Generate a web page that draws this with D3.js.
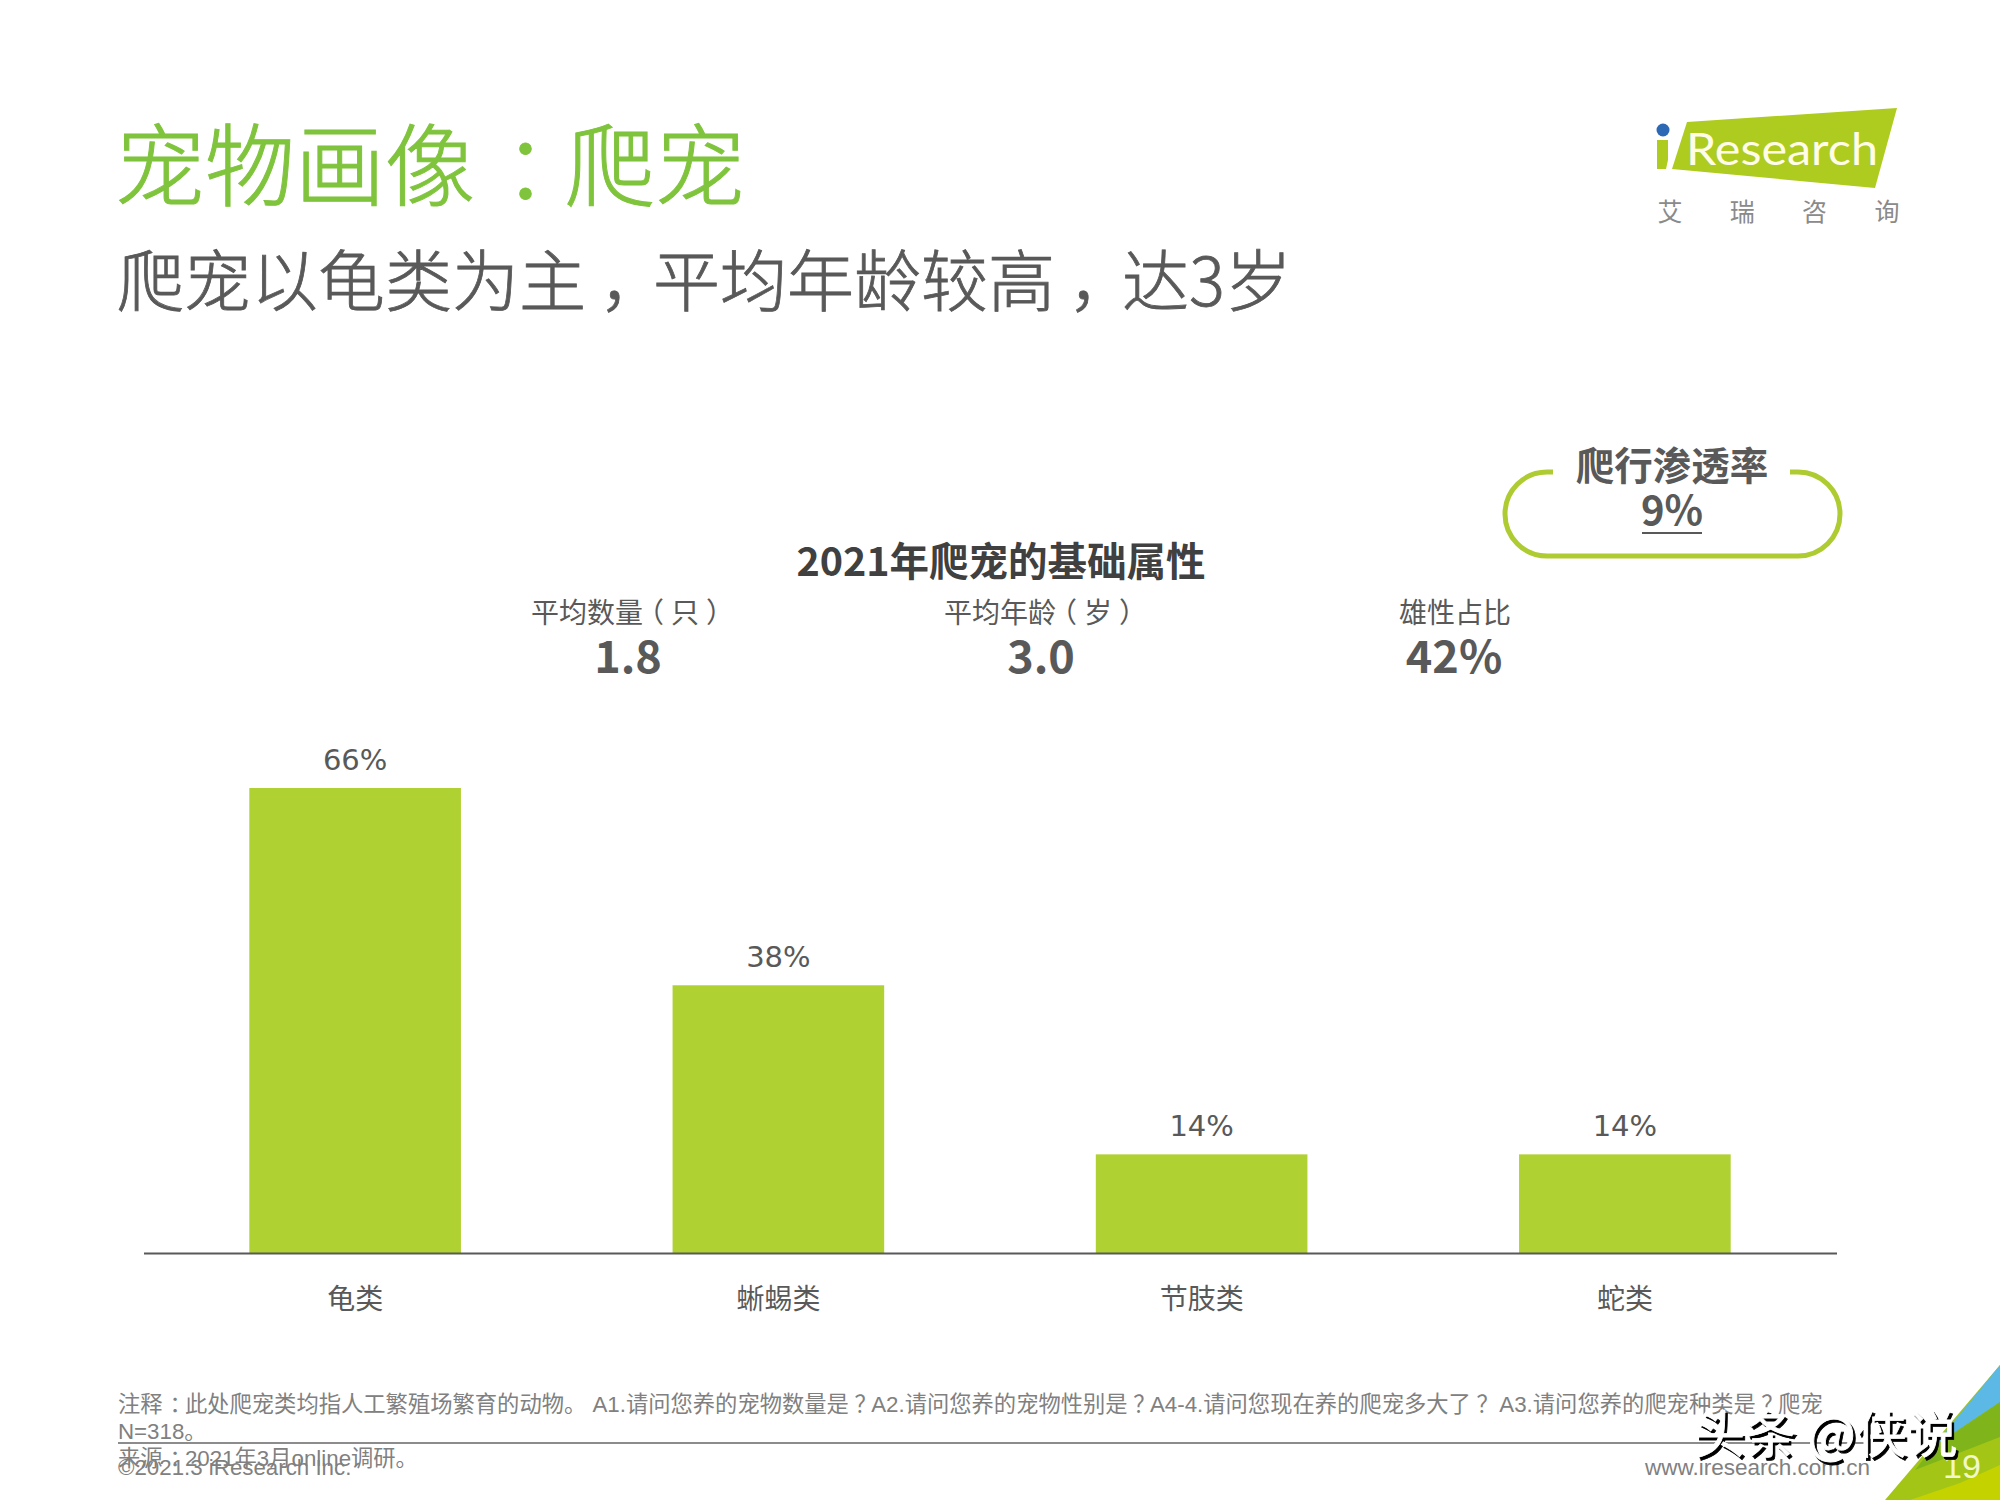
<!DOCTYPE html>
<html><head><meta charset="utf-8">
<script src="https://cdnjs.cloudflare.com/ajax/libs/d3/7.8.5/d3.min.js"></script>
<style>html,body{margin:0;background:#fff}svg{display:block}text{font-family:"Noto Sans CJK SC","Noto Sans",sans-serif}</style>
</head><body><svg id="c" width="2000" height="1500"></svg>
<script>
const categories = ["龟类","蜥蜴类","节肢类","蛇类"];
const shares = [66,38,14,14];
const statLabels = ["平均数量（只）","平均年龄（岁）","雄性占比"];
const statValues = ["1.8","3.0","42%"];
const titleText = "宠物画像：爬宠";
const subtitleText = "爬宠以龟类为主，平均年龄较高，达3岁";
const chartTitle = "2021年爬宠的基础属性";
const noteLines = ["注释：此处爬宠类均指人工繁殖场繁育的动物。 A1.请问您养的宠物数量是？A2.请问您养的宠物性别是？A4-4.请问您现在养的爬宠多大了？ A3.请问您养的爬宠种类是？爬宠","N=318。","来源：2021年3月online调研。","©2021.3 iResearch Inc."];

const svg = d3.select("#c");
const ink="#595959", lime="#b0d132", noteInk="#808080";
const shift={"：":.31,"，":.2,"？":.25,"（":-.25,"）":.25};
const T=(x,y,s,size,fill,opt={})=>{const t=svg.append("text").attr("x",x).attr("y",y).attr("font-size",size).attr("fill",fill)
  .attr("text-anchor",opt.anchor||"start").attr("dominant-baseline",opt.base||"central").attr("font-weight",opt.weight||400);
  // full-width punctuation sits centred in its box in the reference
  let back=0;
  for(const part of s.split(/([：，？（）])/)){ if(!part) continue;
    const sp=t.append("tspan").text(part); const k=shift[part]||0;
    const d=back+k; if(d) sp.attr("dx",(d*size)+"px"); back=-k; }
  if(opt.family)t.style("font-family",opt.family);
  if(opt.len)t.attr("textLength",opt.len).attr("lengthAdjust","spacingAndGlyphs");
  if(opt.bolden)t.attr("stroke",fill).attr("stroke-width",opt.bolden);
  return t;};

// corner decoration
[["#a3c516",[[2000,1365],[1885,1500],[2000,1500]]],
 ["#5cb8e4",[[2000,1365],[1933,1447],[2000,1402]]],
 ["#7fb51a",[[2000,1402],[1933,1447],[1915,1470],[2000,1437]]],
 ["#c4d200",[[1910,1500],[1960,1483],[2000,1465],[2000,1500]]]]
 .forEach(([f,p])=>svg.append("polygon").attr("points",p.join(" ")).attr("fill",f));

T(115,160,titleText,90,"#7fc43c",{weight:300,bolden:1});
T(117,276,subtitleText,67,ink,{weight:300,bolden:.8});

// logo
svg.append("polygon").attr("points","1687,122 1897,108 1875,188 1672,169").attr("fill","#aecb1f");
svg.append("polygon").attr("points","1657,140 1668,140 1668,160 1666,169 1657,169").attr("fill","#aecb1f");
svg.append("circle").attr("cx",1663).attr("cy",130).attr("r",6.5).attr("fill","#2c68b4");
T(1686,165,"Research",44,"#fffde8",{base:"auto",family:"Lato",len:192});
["艾","瑞","咨","询"].forEach((c,i)=>T(1670+i*72.3,210,c,25,"#8a8a8a",{anchor:"middle"}));

// pill
svg.append("path").attr("d","M1553,472 H1547 A42,42 0 0 0 1547,556 H1798 A42,42 0 0 0 1798,472 H1790").attr("fill","none").attr("stroke","#aecb32").attr("stroke-width",5);
T(1672,462.5,"爬行渗透率",38.5,ink,{anchor:"middle",weight:700});
T(1672,508,"9%",40,ink,{anchor:"middle",weight:700});
svg.append("line").attr("x1",1642).attr("x2",1702).attr("y1",533).attr("y2",533).attr("stroke",ink).attr("stroke-width",2);

T(1001,558,chartTitle,39.5,"#404040",{anchor:"middle",weight:700});
const statX=[628,1041,1454], statLabelStart=[531,944,1399];
statLabels.forEach((s,i)=>{T(statLabelStart[i],611,s,28,ink);T(statX[i],653,statValues[i],45,ink,{anchor:"middle",weight:700});});

// chart
const x=d3.scaleBand().domain(categories).range([143.5,1836.5]).paddingInner(0.5).paddingOuter(0.25);
const y=d3.scaleLinear().domain([0,66]).range([1253,788]);
svg.append("g").selectAll("rect").data(categories).join("rect")
  .attr("x",d=>x(d)).attr("width",x.bandwidth())
  .attr("y",(d,i)=>y(shares[i])).attr("height",(d,i)=>y(0)-y(shares[i])).attr("fill",lime);
svg.append("g").selectAll("text").data(categories).join("text")
  .attr("x",d=>x(d)+x.bandwidth()/2).attr("y",(d,i)=>y(shares[i])-28)
  .attr("text-anchor","middle").attr("dominant-baseline","central").attr("font-size",29).attr("fill",ink)
  .style("font-family","DejaVu Sans").text((d,i)=>shares[i]+"%");
const ax=svg.append("g").attr("transform","translate(0,1253)").call(d3.axisBottom(x).tickSize(0).tickPadding(0));
ax.select(".domain").attr("stroke","#595959").attr("stroke-width",2);
ax.selectAll("text").attr("font-size",28).attr("fill",ink).attr("dy",null).attr("y",43.5).attr("dominant-baseline","central").style("font-family",'"Noto Sans CJK SC"');

// footer
const foot='"Liberation Sans","Noto Sans CJK SC",sans-serif';
[1404,1431,1458,1467].forEach((yy,i)=>T(118,yy,noteLines[i],22.3,noteInk,{family:foot}));
svg.append("line").attr("x1",118).attr("x2",1870).attr("y1",1443).attr("y2",1443).attr("stroke","#8c8c8c").attr("stroke-width",2);
T(1870,1467,"www.iresearch.com.cn",22.5,noteInk,{anchor:"end",family:foot});
T(1962,1466,"19",34,"#f2f7c8",{anchor:"middle",family:foot});
// watermark: white glyphs with an offset black shadow
const wm="头条 @侠说";
T(1694+2.5,1431+2.5,wm,51,"#000").attr("stroke","#000").attr("stroke-width",.8);
T(1694,1431,wm,51,"#fff").attr("stroke","#fff").attr("stroke-width",.8);
</script></body></html>
